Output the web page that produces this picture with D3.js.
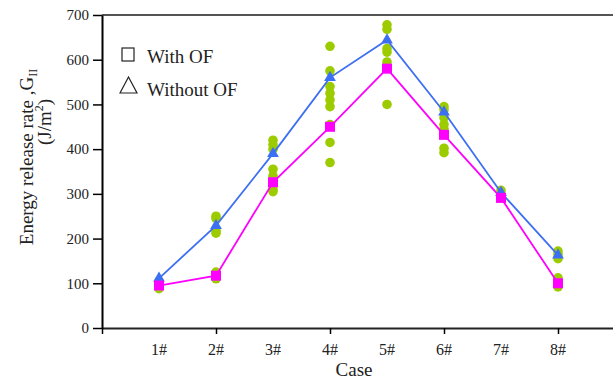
<!DOCTYPE html>
<html>
<head>
<meta charset="utf-8">
<script src="https://cdn.jsdelivr.net/npm/d3@7"></script>
<style>
  body { margin: 0; background: #fff; }
  svg text { font-family: "Liberation Serif", "Times New Roman", serif; }
</style>
</head>
<body>
<div id="chart"></div>
<script>
// data
let cases = ["1#", "2#", "3#", "4#", "5#", "6#", "7#", "8#"];
let withOF = [95, 117, 326, 450, 580, 432, 291, 100];
let withoutOF = [111, 229, 390, 560, 644, 483, 303, 163];
let rawPoints = [
    [88, 95, 105],
    [110, 125, 212, 218, 245, 250],
    [305, 310, 340, 355, 400, 410, 420],
    [370, 415, 455, 495, 510, 525, 540, 575, 630],
    [500, 585, 595, 617, 625, 668, 678],
    [392, 402, 445, 455, 470, 488, 495],
    [293, 300, 308],
    [92, 100, 112, 155, 165, 172]
];
let yTicks = [0, 100, 200, 300, 400, 500, 600, 700];
let xTicks = [0, 2, 4, 6, 8];

let width = 613;
let height = 380;

let svg = d3.select('#chart')
    .append('svg')
    .attr('width', width)
    .attr('height', height);

let x = d3.scaleLinear().domain([0, 9]).range([102, 615]);
let y = d3.scaleLinear().domain([0, 700]).range([328, 15]);

// top frame line
svg.append('line')
    .attr('x1', x(0)).attr('x2', x(9))
    .attr('y1', y(700)).attr('y2', y(700))
    .attr('stroke', '#555')
    .attr('stroke-width', 2);

// x axis
let xAxis = d3.axisBottom(x)
    .tickValues(xTicks)
    .tickFormat('')
    .tickSize(6)
    .tickSizeOuter(0);
let gx = svg.append('g')
    .attr('transform', 'translate(0,' + y(0) + ')')
    .call(xAxis);
gx.select('.domain').attr('stroke', '#222').attr('stroke-width', 2);
gx.selectAll('.tick line').attr('stroke', '#000').attr('stroke-width', 1.5);

// y axis
let yAxis = d3.axisLeft(y)
    .tickValues(yTicks)
    .tickSize(9)
    .tickSizeOuter(0)
    .tickPadding(4);
let gy = svg.append('g')
    .attr('transform', 'translate(' + x(0) + ',0)')
    .call(yAxis);
gy.select('.domain').attr('stroke', '#000').attr('stroke-width', 2);
gy.selectAll('.tick line').attr('stroke', '#000').attr('stroke-width', 1.5);
gy.selectAll('.tick text')
    .style('font-family', '"Liberation Serif", serif')
    .style('font-size', '15px')
    .attr('fill', '#222');

// case labels
svg.selectAll('.caselabel')
    .data(cases)
    .enter()
    .append('text')
    .attr('class', 'caselabel')
    .attr('x', function (d, i) { return x(i + 1); })
    .attr('y', 355)
    .attr('text-anchor', 'middle')
    .style('font-size', '16px')
    .attr('fill', '#222')
    .text(function (d) { return d; });

svg.append('text')
    .attr('x', 354)
    .attr('y', 376)
    .attr('text-anchor', 'middle')
    .style('font-size', '19px')
    .attr('fill', '#222')
    .text('Case');

// y title, two lines
let t1 = svg.append('text')
    .attr('transform', 'translate(33,157) rotate(-90)')
    .attr('text-anchor', 'middle')
    .style('font-size', '19px')
    .attr('fill', '#222');
t1.append('tspan').text('Energy release rate ,G');
t1.append('tspan').attr('dy', 4).style('font-size', '12px').text('II');

let t2 = svg.append('text')
    .attr('transform', 'translate(51,122) rotate(-90)')
    .attr('text-anchor', 'middle')
    .style('font-size', '19px')
    .attr('fill', '#222');
t2.append('tspan').text('(J/m');
t2.append('tspan').attr('dy', -8).style('font-size', '12px').text('2');
t2.append('tspan').attr('dy', 8).text(')');

// raw measurement dots
rawPoints.forEach(function (vals, i) {
    svg.selectAll(null)
        .data(vals)
        .enter()
        .append('circle')
        .attr('cx', x(i + 1))
        .attr('cy', function (d) { return y(d); })
        .attr('r', 4.8)
        .attr('fill', '#9ccc00');
});

let line = d3.line()
    .x(function (d, i) { return x(i + 1); })
    .y(function (d) { return y(d); });

svg.append('path')
    .attr('d', line(withoutOF))
    .attr('fill', 'none')
    .attr('stroke', '#3d6ff2')
    .attr('stroke-width', 1.8);

svg.append('path')
    .attr('d', line(withOF))
    .attr('fill', 'none')
    .attr('stroke', '#ff00ff')
    .attr('stroke-width', 1.8);

let tri = d3.symbol().type(d3.symbolTriangle).size(60);
svg.selectAll('.tri')
    .data(withoutOF)
    .enter()
    .append('path')
    .attr('class', 'tri')
    .attr('d', tri)
    .attr('transform', function (d, i) { return 'translate(' + x(i + 1) + ',' + y(d) + ')'; })
    .attr('fill', '#3d6ff2');

svg.selectAll('.sq')
    .data(withOF)
    .enter()
    .append('rect')
    .attr('class', 'sq')
    .attr('x', function (d, i) { return x(i + 1) - 5; })
    .attr('y', function (d) { return y(d) - 5; })
    .attr('width', 10)
    .attr('height', 10)
    .attr('fill', '#ff00ff');

// legend
svg.append('rect')
    .attr('x', 122).attr('y', 48)
    .attr('width', 12).attr('height', 13)
    .attr('fill', 'none')
    .attr('stroke', '#222')
    .attr('stroke-width', 1.2);
svg.append('path')
    .attr('d', 'M120,93L128.5,77L137,93Z')
    .attr('fill', 'none')
    .attr('stroke', '#222')
    .attr('stroke-width', 1.2);
svg.append('text')
    .attr('x', 147).attr('y', 63)
    .style('font-size', '19px')
    .attr('fill', '#222')
    .text('With OF');
svg.append('text')
    .attr('x', 147).attr('y', 96)
    .style('font-size', '19px')
    .attr('fill', '#222')
    .text('Without OF');
</script>
</body>
</html>
